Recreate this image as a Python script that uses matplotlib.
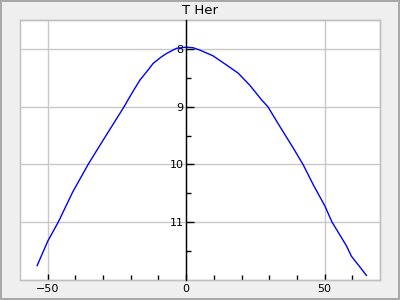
import matplotlib
matplotlib.use("Agg")
import matplotlib.pyplot as plt
from matplotlib.patches import Rectangle

phase = [-53.8, -50.0, -46.2, -41.0, -35.4, -31.8, -27.5, -22.4, -20.0, -16.7, -13.5, -11.9,
         -9.0, -7.1, -3.5, 0.0, 2.5, 4.9, 9.7, 14.6, 18.8, 23.0, 27.2, 29.5,
         33.8, 38.6, 42.2, 46.0, 50.1, 52.7, 55.5, 57.9, 59.7, 62.5, 65.1]
mag = [11.75, 11.33, 11.00, 10.48, 10.00, 9.72, 9.39, 9.00, 8.80, 8.54, 8.35, 8.25,
       8.14, 8.08, 7.99, 7.97, 7.98, 8.02, 8.12, 8.28, 8.42, 8.63, 8.88, 9.00,
       9.34, 9.71, 10.00, 10.36, 10.72, 11.00, 11.22, 11.41, 11.59, 11.76, 11.92]
title = "T Her"
xticks = [-50, 0, 50]
xminor = [-40, -30, -20, -10, 10, 20, 30, 40, 60]
yticks = [8, 9, 10, 11]
yminor = [8.5, 9.5, 10.5, 11.5]

fig = plt.figure(figsize=(4, 3), dpi=100, facecolor="#efefef", edgecolor="#a8a8a8", linewidth=1.5)
ax = fig.add_axes([0.05, 20/300, 0.90, 260/300])
ax.set_facecolor("white")

ax.plot(phase, mag, color="blue", lw=1, zorder=3)
ax.set_xlim(-60, 70)
ax.set_ylim(12, 7.5)

ax.set_xticks(xticks)
ax.set_yticks(yticks)
ax.set_xticks(xminor, minor=True)
ax.set_yticks(yminor, minor=True)
ax.grid(True, which="major", color="#c8c8c8", lw=1, zorder=0)

for s in ["top", "right", "bottom"]:
    ax.spines[s].set_color("#c0c0c0")
    ax.spines[s].set_linewidth(1)
ax.spines["left"].set_position(("data", 0))
ax.spines["left"].set_color("black")
ax.spines["left"].set_linewidth(1)
ax.spines["left"].set_zorder(4)
ax.add_patch(Rectangle((0, 0), 1, 1, transform=ax.transAxes, fill=False,
                       edgecolor="#c0c0c0", lw=1, clip_on=False, zorder=2))

ax.tick_params(axis="x", which="major", direction="in", length=4.5, width=1, color="black",
               labelsize=8, pad=3)
ax.tick_params(axis="x", which="minor", direction="in", length=3.3, width=1, color="black")
ax.tick_params(axis="y", which="major", direction="in", length=6, width=1, color="black",
               labelsize=8, pad=2)
ax.tick_params(axis="y", which="minor", direction="in", length=3.5, width=1, color="black")

ax.set_title(title, fontsize=9.5, pad=4)

fig.savefig("out.png", dpi=100)
